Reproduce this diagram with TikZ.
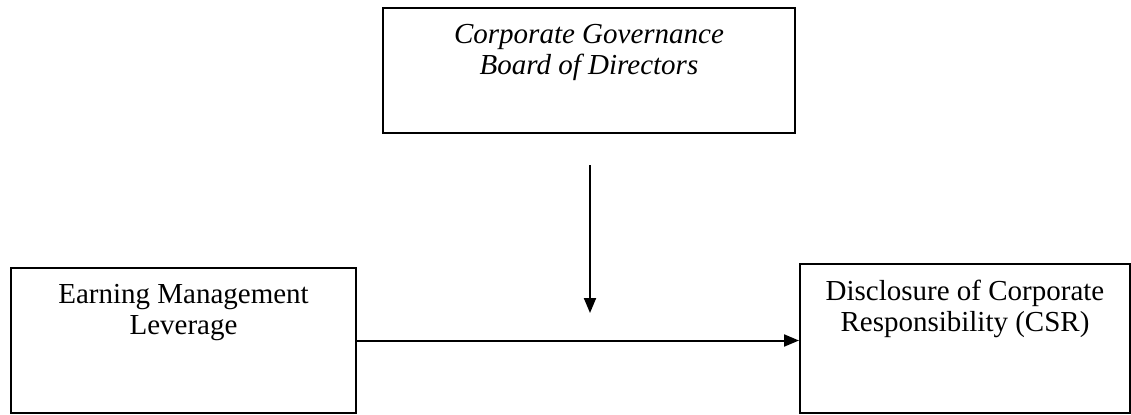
\documentclass[tikz,border=0pt]{standalone}
\usepackage{fontspec}
\setmainfont{Liberation Serif}
\usetikzlibrary{positioning,arrows.meta}

\tikzset{
  varbox/.style={draw, line width=1pt, inner sep=0pt},
  boxtext/.style={align=center, inner sep=0pt, anchor=north,
    font=\fontsize{14.5pt}{15.5pt}\selectfont},
  link/.style={line width=1pt, -{Triangle[length=7.5pt,width=6pt]}}
}

\begin{document}
\begin{tikzpicture}[x=0.5pt, y=-0.5pt]
  \useasboundingbox (0,0) rectangle (1131,414);

  % Boxes
  \node (gov) [varbox, minimum width=206pt, minimum height=62.5pt] at (589,70.5) {};
  \node (earn) [varbox, minimum width=172.5pt, minimum height=72.5pt] at (183.5,340.5) {};
  \node (csr) [varbox, minimum width=165pt, minimum height=74.5pt] at (965,338.5) {};

  % Texts
  \node (govtext) [boxtext, below=8.5pt of gov.north] {\itshape Corporate Governance\\ \itshape Board of Directors};
  \node (earntext) [boxtext, below=8.5pt of earn.north] {Earning Management\\ Leverage};
  \node (csrtext) [boxtext, below=8.5pt of csr.north] {Disclosure of Corporate\\ Responsibility (CSR)};

  % Arrows
  \coordinate (modtop) at (590,165);
  \coordinate (modtip) at (590,313);
  \draw[link] (modtop) -- (modtip);
  \draw[link] (earn.east) -- (earn.east -| csr.west);

\end{tikzpicture}
\end{document}
